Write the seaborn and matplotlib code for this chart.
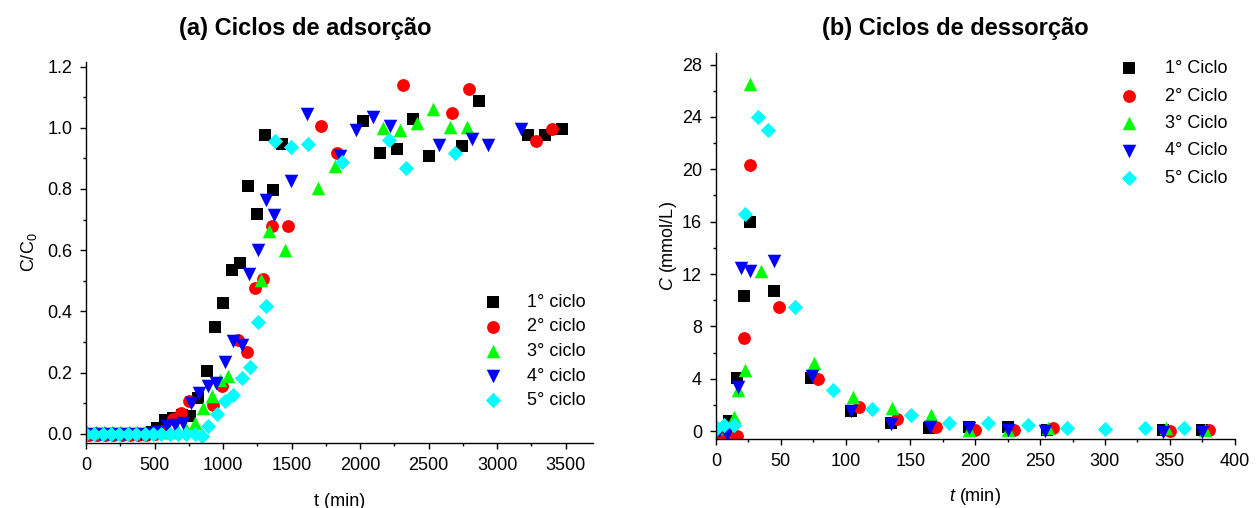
import matplotlib
matplotlib.use("Agg")
import matplotlib.pyplot as plt
from matplotlib.ticker import MultipleLocator, FormatStrFormatter
import seaborn as sns

# ---- (a) adsorption cycles: t (min) vs C/C0 ----
ads_t1 = [0, 60, 120, 180, 240, 300, 360, 420, 480, 515, 576, 637, 698, 759, 819, 880, 941, 1002, 1063,
          1123, 1184, 1245, 1306, 1361, 1427, 2023, 2144, 2266, 2387, 2504, 2747, 2866, 3226, 3348, 3470]
ads_c1 = [0.0, 0.0, 0.0, 0.0, 0.0, 0.0, 0.0, 0.0, 0.005, 0.019, 0.046, 0.05, 0.06, 0.057, 0.117, 0.206, 0.348,
          0.427, 0.536, 0.558, 0.809, 0.718, 0.978, 0.798, 0.947, 1.021, 0.918, 0.929, 1.030, 0.909, 0.940,
          1.089, 0.978, 0.978, 0.997]
ads_t2 = [20, 80, 140, 200, 260, 320, 380, 440, 500, 560, 632, 693, 754, 929, 990, 1111, 1172, 1233, 1289,
          1354, 1471, 1712, 1829, 2315, 2674, 2796, 3280, 3397]
ads_c2 = [-0.005, -0.005, -0.005, -0.005, -0.005, -0.005, -0.005, -0.005, 0.0, 0.01, 0.048, 0.068, 0.106,
          0.095, 0.155, 0.307, 0.266, 0.476, 0.506, 0.678, 0.678, 1.007, 0.918, 1.139, 1.049, 1.128, 0.958,
          0.997]
ads_t3 = [10, 70, 130, 190, 250, 310, 370, 430, 490, 550, 610, 670, 730, 795, 856, 917, 977, 1038, 1274,
          1335, 1452, 1695, 1816, 2164, 2290, 2412, 2533, 2655, 2777]
ads_c3 = [0.005, 0.005, 0.005, 0.005, 0.005, 0.005, 0.005, 0.005, 0.005, 0.005, 0.005, 0.01, 0.015, 0.035,
          0.084, 0.122, 0.177, 0.190, 0.504, 0.662, 0.602, 0.803, 0.874, 0.999, 0.994, 1.014, 1.062, 1.003,
          1.003]
ads_t4 = [40, 100, 160, 220, 280, 340, 400, 460, 520, 588, 649, 710, 766, 827, 888, 948, 1014, 1070, 1135,
          1191, 1252, 1313, 1374, 1493, 1614, 1853, 1969, 2091, 2217, 2577, 2818, 2935, 3173]
ads_c4 = [0.0, 0.0, 0.0, 0.0, 0.0, 0.0, 0.0, 0.0, 0.005, 0.025, 0.03, 0.035, 0.100, 0.133, 0.155, 0.166,
          0.233, 0.302, 0.291, 0.523, 0.602, 0.763, 0.714, 0.825, 1.046, 0.907, 0.994, 1.035, 1.005, 0.943,
          0.964, 0.943, 0.997]
ads_t5 = [0, 61, 122, 183, 244, 305, 366, 427, 488, 549, 610, 671, 732, 793, 844, 892, 953, 1014, 1075, 1136,
          1196, 1252, 1313, 1379, 1493, 1617, 1865, 2212, 2334, 2691]
ads_c5 = [0.0, 0.0, 0.0, 0.0, 0.0, 0.0, 0.0, 0.0, 0.0, 0.0, 0.0, 0.0, 0.0, 0.0, -0.006, 0.024, 0.064, 0.106,
          0.128, 0.182, 0.218, 0.364, 0.419, 0.956, 0.937, 0.948, 0.887, 0.959, 0.867, 0.918]

# ---- (b) desorption cycles: t (min) vs C (mmol/L) ----
des_t1 = [0, 10, 16, 22, 26.5, 44.5, 73, 104, 135, 164, 195, 225, 255, 345, 375]
des_c1 = [0.1, 0.75, 4.05, 10.3, 16.0, 10.7, 4.05, 1.5, 0.65, 0.2, 0.33, 0.3, 0.08, 0.08, 0.1]
des_t2 = [3, 8, 16, 22, 26.5, 49, 79, 110, 140, 170, 200, 230, 260, 350, 380]
des_c2 = [-0.3, -0.2, -0.4, 7.1, 20.3, 9.5, 3.95, 1.86, 0.9, 0.33, 0.08, 0.08, 0.2, 0.0, 0.08]
des_t3 = [0, 14, 17, 22.5, 26.5, 35, 76, 106, 136, 166, 195, 225, 256, 347, 377]
des_c3 = [0.2, 1.1, 3.1, 4.7, 26.5, 12.2, 5.2, 2.6, 1.75, 1.25, 0.1, 0.1, 0.2, 0.2, 0.1]
des_t4 = [2, 8.5, 17, 19.5, 26.5, 44.5, 74, 104, 135, 165, 195, 225, 254, 345, 375]
des_c4 = [0.0, -0.2, 3.4, 12.45, 12.2, 13.0, 4.2, 1.5, 0.55, 0.28, 0.2, 0.1, 0.0, -0.05, -0.1]
des_t5 = [0.8, 6, 13.7, 22.7, 32.4, 40, 60.7, 90, 120, 150.5, 180, 210, 240.7, 270.8, 300.4, 330.8, 360.9]
des_c5 = [0.2, 0.46, 0.46, 16.6, 24.0, 23.0, 9.45, 3.15, 1.66, 1.25, 0.64, 0.64, 0.46, 0.25, 0.13, 0.2, 0.2]

ads_labels = ["1° ciclo", "2° ciclo", "3° ciclo", "4° ciclo", "5° ciclo"]
des_labels = ["1° Ciclo", "2° Ciclo", "3° Ciclo", "4° Ciclo", "5° Ciclo"]
colors = ["#000000", "#FF0000", "#00FF00", "#0000FF", "#00FFFF"]
markers = ["s", "o", "^", "v", "D"]
sizes = [75, 85, 95, 95, 60]

sns.set_style("ticks")
plt.rcParams["font.family"] = ["Liberation Sans", "DejaVu Sans"]
plt.rcParams["mathtext.fontset"] = "custom"
plt.rcParams["mathtext.rm"] = "Liberation Sans"
plt.rcParams["mathtext.it"] = "Liberation Sans:italic"
plt.rcParams["axes.linewidth"] = 1.0
for key in ["text.color", "axes.labelcolor", "xtick.color", "ytick.color", "axes.edgecolor"]:
    plt.rcParams[key] = "black"

fig = plt.figure(figsize=(12.56, 5.08), dpi=100)
ax1 = fig.add_axes([0.0685, 0.128, 0.4037, 0.750])
ax2 = fig.add_axes([0.570, 0.136, 0.413, 0.760])

ads = [(ads_t1, ads_c1), (ads_t2, ads_c2), (ads_t3, ads_c3), (ads_t4, ads_c4), (ads_t5, ads_c5)]
des = [(des_t1, des_c1), (des_t2, des_c2), (des_t3, des_c3), (des_t4, des_c4), (des_t5, des_c5)]

for i, (t, c) in enumerate(ads):
    sns.scatterplot(x=t, y=c, marker=markers[i], color=colors[i], s=sizes[i],
                    linewidth=0, label=ads_labels[i], ax=ax1)
for i, (t, c) in enumerate(des):
    sns.scatterplot(x=t, y=c, marker=markers[i], color=colors[i], s=sizes[i],
                    linewidth=0, label=des_labels[i], ax=ax2)

for ax in (ax1, ax2):
    sns.despine(ax=ax)
    ax.tick_params(which="major", length=4, width=1.0, labelsize=13, direction="out", pad=6)
    ax.tick_params(which="minor", length=2.5, width=1.0, direction="out")

ax1.set_xlim(0, 3700)
ax1.set_ylim(-0.03, 1.215)
ax1.xaxis.set_major_locator(MultipleLocator(500))
ax1.xaxis.set_minor_locator(MultipleLocator(250))
ax1.yaxis.set_major_locator(MultipleLocator(0.2))
ax1.yaxis.set_minor_locator(MultipleLocator(0.1))
ax1.yaxis.set_major_formatter(FormatStrFormatter("%.1f"))
ax1.set_xlabel("t (min)", fontsize=13, labelpad=14)
ax1.set_ylabel(r"C/C$_\mathregular{0}$", fontsize=13, labelpad=6)

ax2.set_xlim(0, 400)
ax2.set_ylim(-0.6, 28.9)
ax2.xaxis.set_major_locator(MultipleLocator(50))
ax2.xaxis.set_minor_locator(MultipleLocator(25))
ax2.yaxis.set_major_locator(MultipleLocator(4))
ax2.yaxis.set_minor_locator(MultipleLocator(2))
ax2.set_xlabel(r"$\mathit{t}$ (min)", fontsize=13, labelpad=12)
ax2.set_ylabel(r"$\mathit{C}$ (mmol/L)", fontsize=13, labelpad=2)

ax1.legend(loc="lower right", bbox_to_anchor=(1.0, 0.07), frameon=False, fontsize=13,
           labelspacing=0.42, handletextpad=0.9, borderaxespad=0)
ax2.legend(loc="upper right", bbox_to_anchor=(1.0, 1.0), frameon=False, fontsize=13,
           labelspacing=0.58, handletextpad=1.0, borderaxespad=0)

fig.text(305 / 1256, 1 - 28 / 508, "(a) Ciclos de adsorção", ha="center", va="center",
         fontsize=17, fontweight="bold")
fig.text(955 / 1256, 1 - 28 / 508, "(b) Ciclos de dessorção", ha="center", va="center",
         fontsize=17, fontweight="bold")

fig.savefig("out.png", dpi=100)
